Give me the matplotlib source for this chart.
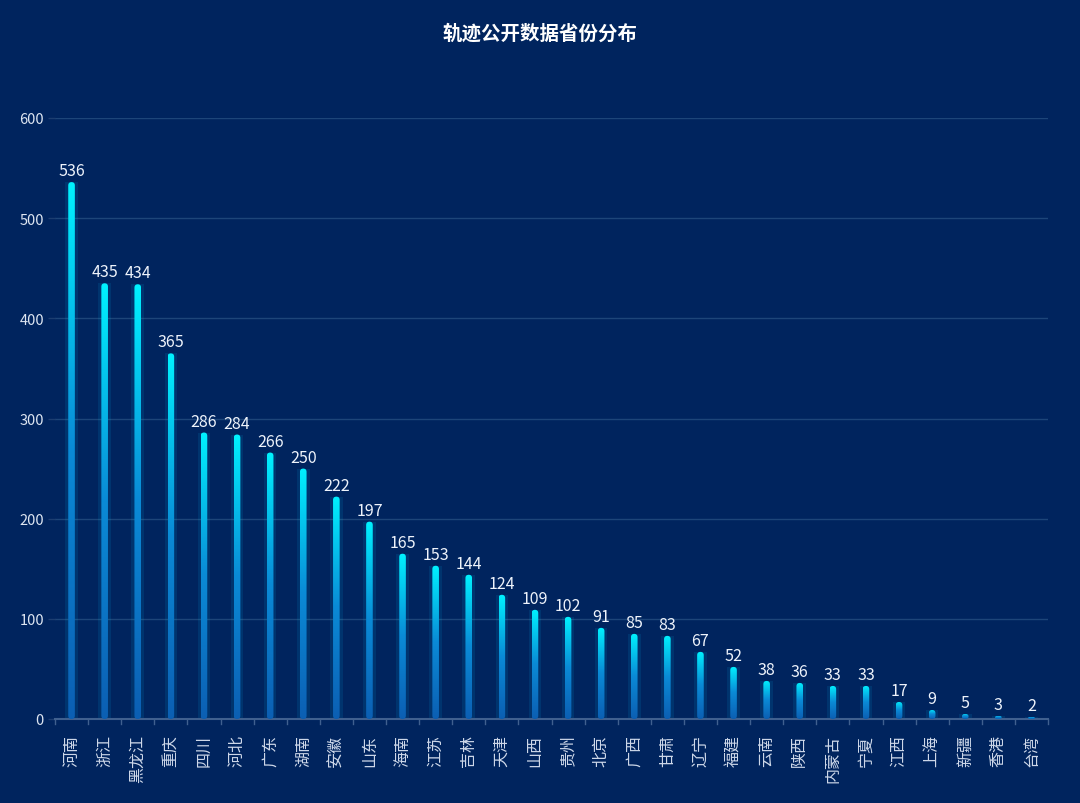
import numpy as np
import matplotlib
matplotlib.use("Agg")
import matplotlib.pyplot as plt
from matplotlib.colors import LinearSegmentedColormap
from matplotlib.patches import FancyBboxPatch

plt.rcParams['font.family'] = ['Noto Sans CJK SC', 'DejaVu Sans']

provinces = ['河南', '浙江', '黑龙江', '重庆', '四川', '河北', '广东', '湖南', '安徽', '山东',
             '海南', '江苏', '吉林', '天津', '山西', '贵州', '北京', '广西', '甘肃', '辽宁',
             '福建', '云南', '陕西', '内蒙古', '宁夏', '江西', '上海', '新疆', '香港', '台湾']
counts = [536, 435, 434, 365, 286, 284, 266, 250, 222, 197,
          165, 153, 144, 124, 109, 102, 91, 85, 83, 67,
          52, 38, 36, 33, 33, 17, 9, 5, 3, 2]
y_ticks = [0, 100, 200, 300, 400, 500, 600]

bg = '#00245e'
cmap = LinearSegmentedColormap.from_list('bar', ['#0c5fb3', '#0a8ad6', '#00f2ff'])
grad = np.linspace(0, 1, 256).reshape(-1, 1)

fig = plt.figure(figsize=(10.8, 8.04), dpi=100, facecolor=bg)
ax = fig.add_axes([55 / 1080, 1 - 720 / 804, (1048 - 55) / 1080, (720 - 119) / 804])
ax.set_facecolor(bg)
ax.set_xlim(-0.5, len(provinces) - 0.5)
ax.set_ylim(0, 600)

# data units per pixel ratio for rounded tops
aspect = (600 / 601) / ((len(provinces)) / (1048 - 55))
w = 0.2
for i, v in enumerate(counts):
    # soft glow behind the bar
    ax.bar(i, v, width=w * 1.9, color='#00c8ff', alpha=0.10, zorder=2, linewidth=0)
    im = ax.imshow(grad, extent=[i - w / 2, i + w / 2, 0, v], origin='lower',
                   cmap=cmap, aspect='auto', zorder=3, interpolation='bilinear')
    r = min(w / 2, v / aspect / 2)
    clip = FancyBboxPatch((i - w / 2, 0), w, v, boxstyle=f'round,pad=0,rounding_size={r}',
                          mutation_aspect=aspect, transform=ax.transData,
                          facecolor='none', edgecolor='none')
    im.set_clip_path(clip)
    ax.text(i, v + 3, str(v), ha='center', va='bottom', color='#eef3fb', fontsize=11.5, zorder=4)

ax.set_xlim(-0.5, len(provinces) - 0.5)
ax.set_ylim(0, 600)

ax.set_yticks(y_ticks)
ax.set_yticklabels([str(t) for t in y_ticks], color='#dde5f1', fontsize=10.5)
ax.tick_params(axis='y', length=5, width=1, color='#1c3d70', pad=3)
ax.grid(axis='y', color='#1d4579', linewidth=1, zorder=1)
ax.set_axisbelow(True)

ax.set_xticks(range(len(provinces)))
ax.set_xticklabels(provinces, rotation=90, color='#cfd9ea', fontsize=11.5, va='top', ha='center')
ax.tick_params(axis='x', length=0, pad=11)
# boundary ticks between categories
for b in np.arange(-0.5, len(provinces), 1):
    ax.plot([b, b], [0, -5], color='#40608f', linewidth=1, clip_on=False, zorder=2)

for s in ['top', 'right', 'left']:
    ax.spines[s].set_visible(False)
ax.spines['bottom'].set_color('#40608f')
ax.spines['bottom'].set_linewidth(1.5)

fig.text(0.5, 1 - 34 / 804, '轨迹公开数据省份分布', ha='center', va='center',
         color='white', fontsize=14, fontweight='bold')

fig.savefig('out.png', dpi=100, facecolor=bg)
